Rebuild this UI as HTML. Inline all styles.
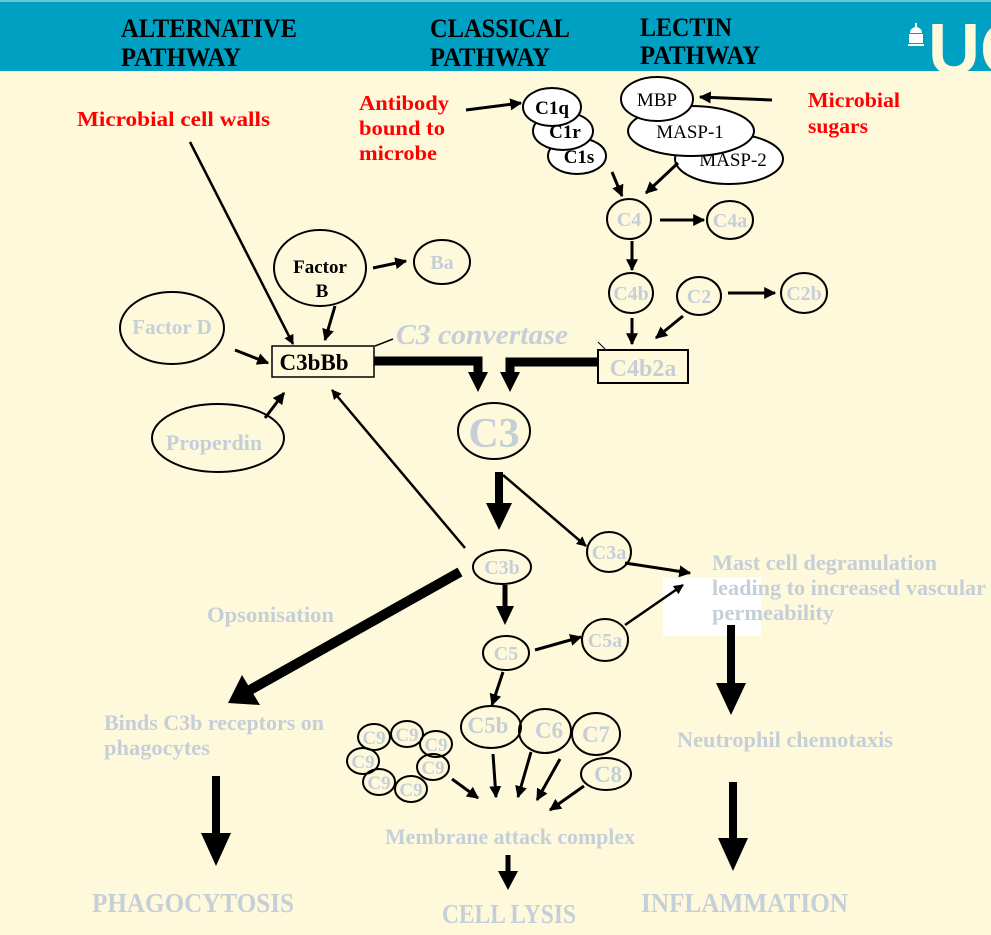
<!DOCTYPE html>
<html><head><meta charset="utf-8"><style>
html,body{margin:0;padding:0;background:#fff9dc;}
svg{display:block;}
text{font-family:"Liberation Serif",serif;font-weight:bold;}
.g{fill:#c5cfd8;}
.k{fill:#000;}
.r{fill:#f00;}
.e{fill:none;stroke:#000;stroke-width:2;}
.w{fill:#fff;stroke:#000;stroke-width:2;}
.a{stroke:#000;stroke-width:3;marker-end:url(#ah);}
.t{stroke:#000;stroke-width:2.5;marker-end:url(#ah);}
.T{stroke:#000;stroke-width:9;}
</style></head><body>
<svg width="991" height="935" viewBox="0 0 991 935" xmlns="http://www.w3.org/2000/svg">
<defs>
<marker id="ah" viewBox="0 0 10 10" refX="9" refY="5" markerWidth="4" markerHeight="4" orient="auto"><path d="M0,0L10,5L0,10z" fill="#000"/></marker>
</defs>
<rect x="0" y="0" width="991" height="935" fill="#fff9dc"/>
<rect x="0" y="0" width="991" height="71" fill="#00a0c2"/>
<rect x="0" y="0" width="991" height="2" fill="#6cc3d6"/>
<g>
<path d="M908,46h16v-2h-16zM909,43h14v-9h-14zM910,33h12a6,6 0 0 0 -12,0zM915,27h2v-4h-2z" fill="#fff"/>
<text x="928" y="74" font-size="72" fill="#fff9dc" style="font-family:'Liberation Sans',sans-serif">UC</text>
</g>
<rect x="663" y="578" width="98" height="58" fill="#fff"/>
<g font-size="26">
<text class="k" x="121" y="37" textLength="176" lengthAdjust="spacingAndGlyphs">ALTERNATIVE</text>
<text class="k" x="121" y="66" textLength="120" lengthAdjust="spacingAndGlyphs">PATHWAY</text>
<text class="k" x="430" y="37" textLength="140" lengthAdjust="spacingAndGlyphs">CLASSICAL</text>
<text class="k" x="430" y="66" textLength="120" lengthAdjust="spacingAndGlyphs">PATHWAY</text>
<text class="k" x="640" y="36" textLength="92" lengthAdjust="spacingAndGlyphs">LECTIN</text>
<text class="k" x="640" y="64" textLength="120" lengthAdjust="spacingAndGlyphs">PATHWAY</text>
</g>
<g font-size="21">
<text class="r" x="77" y="126" textLength="193" lengthAdjust="spacingAndGlyphs">Microbial  cell walls</text>
<text class="r" x="359" y="110" textLength="90" lengthAdjust="spacingAndGlyphs">Antibody</text>
<text class="r" x="359" y="135" textLength="86" lengthAdjust="spacingAndGlyphs">bound to</text>
<text class="r" x="359" y="160" textLength="78" lengthAdjust="spacingAndGlyphs">microbe</text>
<text class="r" x="808" y="107" textLength="92" lengthAdjust="spacingAndGlyphs">Microbial</text>
<text class="r" x="808" y="133" textLength="60" lengthAdjust="spacingAndGlyphs">sugars</text>
</g>
<g font-size="19">
<ellipse class="w" cx="577" cy="156" rx="29" ry="18"/><text class="k" x="579" y="163" text-anchor="middle">C1s</text>
<ellipse class="w" cx="563" cy="131" rx="30" ry="19"/><text class="k" x="565" y="138" text-anchor="middle">C1r</text>
<ellipse class="w" cx="552" cy="107" rx="29" ry="19"/><text class="k" x="552" y="114" text-anchor="middle">C1q</text>
</g>
<g font-size="19">
<ellipse class="w" cx="729" cy="159" rx="54" ry="25"/><text class="k" x="733" y="166" text-anchor="middle" style="font-weight:normal">MASP-2</text>
<ellipse class="w" cx="691" cy="131" rx="63" ry="25"/><text class="k" x="690" y="138" text-anchor="middle" style="font-weight:normal">MASP-1</text>
<ellipse class="w" cx="657" cy="99" rx="36" ry="22"/><text class="k" x="657" y="106" text-anchor="middle" style="font-weight:normal">MBP</text>
</g>
<g>
<line class="a" x1="466" y1="110" x2="521" y2="103"/>
<line class="a" x1="772" y1="100" x2="700" y2="97"/>
<line class="a" x1="612" y1="172" x2="622" y2="196"/>
<line class="a" x1="678" y1="163" x2="646" y2="193"/>
<line class="a" x1="660" y1="220" x2="704" y2="220"/>
<line class="a" x1="632" y1="241" x2="632" y2="270"/>
<line class="a" x1="728" y1="293" x2="775" y2="293"/>
<line class="a" x1="632" y1="318" x2="632" y2="344"/>
<line class="a" x1="683" y1="316" x2="656" y2="338"/>
<line class="a" x1="373" y1="268" x2="406" y2="261"/>
<line class="t" x1="190" y1="142" x2="293" y2="344"/>
<line class="a" x1="335" y1="306" x2="325" y2="340"/>
<line class="a" x1="235" y1="350" x2="268" y2="363"/>
<line class="a" x1="265" y1="418" x2="284" y2="393"/>
<line class="t" x1="465" y1="548" x2="332" y2="390"/>
<line class="t" x1="503" y1="475" x2="586" y2="546"/>
<line class="a" x1="625" y1="563" x2="690" y2="573"/>
<line class="a" x1="535" y1="650" x2="581" y2="637"/>
<line class="t" x1="625" y1="625" x2="683" y2="585"/>
<line class="a" x1="503" y1="672" x2="492" y2="705"/>
<line class="a" x1="452" y1="779" x2="478" y2="798"/>
<line class="a" x1="493" y1="754" x2="496" y2="797"/>
<line class="a" x1="531" y1="752" x2="518" y2="797"/>
<line class="a" x1="560" y1="759" x2="537" y2="800"/>
<line class="a" x1="584" y1="786" x2="550" y2="810"/>
<line x1="375" y1="346" x2="393" y2="339" stroke="#000" stroke-width="1.5"/>
<line x1="598" y1="342" x2="606" y2="350" stroke="#000" stroke-width="1"/>
</g>
<g font-size="20">
<ellipse class="e" cx="629" cy="219" rx="22" ry="20"/><text class="g" x="629" y="226" text-anchor="middle" font-weight="normal">C4</text>
<ellipse class="e" cx="730" cy="220" rx="23" ry="19"/><text class="g" x="730" y="227" text-anchor="middle" font-weight="normal">C4a</text>
<ellipse class="e" cx="631" cy="293" rx="22" ry="20"/><text class="g" x="631" y="300" text-anchor="middle" font-weight="normal">C4b</text>
<ellipse class="e" cx="699" cy="296" rx="22" ry="19"/><text class="g" x="699" y="303" text-anchor="middle" font-weight="normal">C2</text>
<ellipse class="e" cx="804" cy="293" rx="23" ry="20"/><text class="g" x="804" y="300" text-anchor="middle" font-weight="normal">C2b</text>
<rect x="598" y="350" width="90" height="33" fill="none" stroke="#000" stroke-width="2"/><text class="g" x="643" y="376" text-anchor="middle" font-size="24" font-weight="normal">C4b2a</text>
<ellipse class="e" cx="320" cy="268" rx="46" ry="38"/><text class="k" x="320" y="273" text-anchor="middle" font-size="19">Factor</text><text class="k" x="322" y="297" text-anchor="middle" font-size="19">B</text>
<ellipse class="e" cx="442" cy="262" rx="28" ry="22"/><text class="g" x="442" y="269" text-anchor="middle">Ba</text>
<ellipse class="e" cx="172" cy="328" rx="52" ry="36"/><text class="g" x="172" y="334" text-anchor="middle" font-size="21">Factor D</text>
<ellipse class="e" cx="218" cy="438" rx="66" ry="34"/><text class="g" x="214" y="450" text-anchor="middle" font-size="22">Properdin</text>
<rect x="272" y="346" width="102" height="31" fill="none" stroke="#000" stroke-width="1.5"/><text class="k" x="314" y="370" text-anchor="middle" font-size="23">C3bBb</text>
<text class="g" x="396" y="344" font-size="28" font-style="italic" textLength="172" lengthAdjust="spacingAndGlyphs">C3 convertase</text>
<ellipse class="e" cx="494" cy="431" rx="36" ry="28"/><text class="g" x="494" y="447" text-anchor="middle" font-size="42" font-weight="normal">C3</text>
<ellipse class="e" cx="609" cy="552" rx="22" ry="20"/><text class="g" x="609" y="559" text-anchor="middle" font-weight="normal">C3a</text>
<ellipse class="e" cx="502" cy="567" rx="29" ry="17"/><text class="g" x="502" y="574" text-anchor="middle" font-weight="normal">C3b</text>
<ellipse class="e" cx="506" cy="653" rx="23" ry="17"/><text class="g" x="506" y="660" text-anchor="middle" font-weight="normal">C5</text>
<ellipse class="e" cx="605" cy="640" rx="23" ry="21"/><text class="g" x="605" y="647" text-anchor="middle" font-weight="normal">C5a</text>
<ellipse class="e" cx="491" cy="727" rx="30" ry="21"/><text class="g" x="488" y="733" text-anchor="middle" font-weight="normal" font-size="23">C5b</text>
<ellipse class="e" cx="545" cy="731" rx="26" ry="22"/><text class="g" x="549" y="738" text-anchor="middle" font-weight="normal" font-size="23">C6</text>
<ellipse class="e" cx="596" cy="734" rx="24" ry="21"/><text class="g" x="596" y="742" text-anchor="middle" font-weight="normal" font-size="23">C7</text>
<ellipse class="e" cx="606" cy="774" rx="25" ry="16"/><text class="g" x="608" y="782" text-anchor="middle" font-weight="normal" font-size="23">C8</text>
<g font-size="19" font-weight="normal">
<ellipse class="e" cx="374" cy="737" rx="16" ry="13"/><text class="g" x="374" y="744" text-anchor="middle">C9</text>
<ellipse class="e" cx="407" cy="734" rx="16" ry="13"/><text class="g" x="407" y="741" text-anchor="middle">C9</text>
<ellipse class="e" cx="436" cy="744" rx="16" ry="13"/><text class="g" x="436" y="751" text-anchor="middle">C9</text>
<ellipse class="e" cx="363" cy="761" rx="16" ry="13"/><text class="g" x="363" y="768" text-anchor="middle">C9</text>
<ellipse class="e" cx="433" cy="767" rx="16" ry="13"/><text class="g" x="433" y="774" text-anchor="middle">C9</text>
<ellipse class="e" cx="379" cy="782" rx="16" ry="13"/><text class="g" x="379" y="789" text-anchor="middle">C9</text>
<ellipse class="e" cx="411" cy="789" rx="16" ry="13"/><text class="g" x="411" y="796" text-anchor="middle">C9</text>
</g>
</g>
<g>
<polyline points="374,361 478,361 478,372" fill="none" class="T"/>
<path d="M468,372h20l-10,20z" fill="#000"/>
<polyline points="598,362 510,362 510,372" fill="none" class="T"/>
<path d="M500,372h20l-10,20z" fill="#000"/>
<line x1="499" y1="472" x2="499" y2="505" stroke="#000" stroke-width="8"/>
<path d="M486,503h26l-13,27z" fill="#000"/>
<line x1="460" y1="572" x2="250" y2="690" stroke="#000" stroke-width="10"/>
<path d="M228,703l14,-28l18,30z" fill="#000"/>
<line x1="505" y1="585" x2="505" y2="608" stroke="#000" stroke-width="5"/>
<path d="M496,606h18l-9,19z" fill="#000"/>
<line x1="731" y1="625" x2="731" y2="685" stroke="#000" stroke-width="8"/>
<path d="M716,683h30l-15,32z" fill="#000"/>
<line x1="216" y1="776" x2="216" y2="835" stroke="#000" stroke-width="8"/>
<path d="M201,833h30l-15,33z" fill="#000"/>
<line x1="733" y1="782" x2="733" y2="840" stroke="#000" stroke-width="8"/>
<path d="M718,838h30l-15,33z" fill="#000"/>
<line x1="508" y1="855" x2="508" y2="873" stroke="#000" stroke-width="5"/>
<path d="M498,871h20l-10,19z" fill="#000"/>
</g>
<g font-size="22">
<text class="g" x="712" y="570" textLength="225" lengthAdjust="spacingAndGlyphs">Mast cell degranulation</text>
<text class="g" x="712" y="595" textLength="274" lengthAdjust="spacingAndGlyphs">leading to increased vascular</text>
<text class="g" x="712" y="620" textLength="122" lengthAdjust="spacingAndGlyphs">permeability</text>
<text class="g" x="207" y="622" textLength="127" lengthAdjust="spacingAndGlyphs">Opsonisation</text>
<text class="g" x="104" y="730" textLength="220" lengthAdjust="spacingAndGlyphs">Binds C3b receptors on</text>
<text class="g" x="104" y="755" textLength="106" lengthAdjust="spacingAndGlyphs">phagocytes</text>
<text class="g" x="677" y="747" textLength="216" lengthAdjust="spacingAndGlyphs">Neutrophil chemotaxis</text>
<text class="g" x="385" y="844" textLength="250" lengthAdjust="spacingAndGlyphs">Membrane attack complex</text>
<text class="g" x="92" y="912" font-size="27" textLength="202" lengthAdjust="spacingAndGlyphs">PHAGOCYTOSIS</text>
<text class="g" x="442" y="923" font-size="27" textLength="134" lengthAdjust="spacingAndGlyphs">CELL LYSIS</text>
<text class="g" x="641" y="912" font-size="27" textLength="207" lengthAdjust="spacingAndGlyphs">INFLAMMATION</text>
</g>
</svg>
</body></html>
